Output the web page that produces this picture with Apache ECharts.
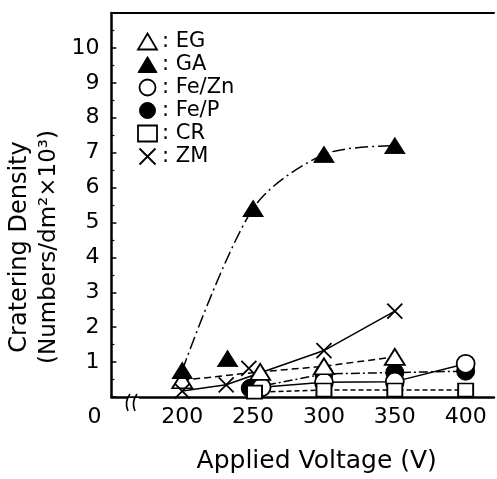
<!DOCTYPE html>
<html>
<head>
<meta charset="utf-8">
<script src="https://cdn.jsdelivr.net/npm/echarts@6/dist/echarts.min.js"></script>
<style>
  html, body { margin: 0; padding: 0; background: #fff; }
  #chart { width: 497px; height: 479px; }
</style>
</head>
<body>
<div id="chart"></div>
<script>
// data (voltage in V, density in numbers/dm2 x 10^3)
var egVolt = [200, 255, 300, 350];
var egDens = [0.48, 0.72, 0.88, 1.15];
var gaVolt = [200, 250, 300, 350];
var gaDens = [0.76, 5.4, 6.95, 7.2];
var gaExtraVolt = [232];
var gaExtraDens = [1.1];
var fezVolt = [256, 300, 350, 400];
var fezDens = [0.28, 0.42, 0.44, 0.95];
var fepVolt = [248, 300, 350, 400];
var fepDens = [0.25, 0.66, 0.7, 0.74];
var crVolt = [251, 300, 350, 400];
var crDens = [0.14, 0.2, 0.2, 0.2];
var zmVolt = [200, 231, 300, 350];
var zmDens = [0.17, 0.35, 1.33, 2.46];
var zmExtraVolt = [247];
var zmExtraDens = [0.82];

function pairs(xs, ys) {
    var out = [];
    for (var k = 0; k < xs.length; k++) out.push([xs[k], ys[k]]);
    return out;
}

var font = 'DejaVu Sans';
var crossPath = 'path://M0,0L10,10M0,10L10,0';
var openStyle = { color: '#fff', borderColor: '#000', borderWidth: 1.8, opacity: 1 };
var fillStyle = { color: '#000', borderColor: '#000', borderWidth: 1, opacity: 1 };
var crossStyle = { color: 'none', borderColor: '#000', borderWidth: 1.8, opacity: 1 };

function lineSeries(name, data, symbol, size, itemStyle, lineType, smooth) {
    return {
        name: name,
        type: 'line',
        data: data,
        symbol: symbol,
        symbolSize: size,
        showAllSymbol: true,
        smooth: smooth || false,
        itemStyle: itemStyle,
        lineStyle: { color: '#000', width: 1.5, type: lineType },
        emphasis: { disabled: true }
    };
}

function dotSeries(name, data, symbol, size, itemStyle) {
    return {
        name: name,
        type: 'scatter',
        data: data,
        symbol: symbol,
        symbolSize: size,
        itemStyle: itemStyle,
        emphasis: { disabled: true }
    };
}

var chart = echarts.init(document.getElementById('chart'));

var option = {
    animation: false,
    backgroundColor: '#fff',
    textStyle: { fontFamily: font, color: '#000' },
    grid: { left: 108, right: 3, top: 13, bottom: 77 },
    legend: {
        orient: 'vertical',
        left: 137,
        top: 31,
        padding: 0,
        itemGap: 2,
        itemWidth: 19,
        itemHeight: 16,
        selectedMode: false,
        textStyle: { fontFamily: font, fontSize: 21, lineHeight: 19.5, color: '#000' },
        formatter: function (n) { return ': ' + n; },
        data: [
            { name: 'EG', icon: 'triangle', itemStyle: openStyle },
            { name: 'GA', icon: 'triangle', itemStyle: fillStyle },
            { name: 'Fe/Zn', icon: 'circle', itemStyle: openStyle },
            { name: 'Fe/P', icon: 'circle', itemStyle: fillStyle },
            { name: 'CR', icon: 'rect', itemStyle: openStyle },
            { name: 'ZM', icon: crossPath, itemStyle: crossStyle }
        ]
    },
    xAxis: [{
        type: 'value',
        min: 150,
        max: 420,
        interval: 50,
        splitLine: { show: false },
        axisTick: { show: false },
        axisLine: { lineStyle: { color: '#000', width: 2.5 } },
        axisLabel: {
            fontFamily: font,
            fontSize: 22,
            color: '#000',
            margin: 9,
            formatter: function (v) {
                if (v === 150) return '{z|0}';
                if (v >= 200 && v <= 400) return String(v);
                return '';
            },
            rich: { z: { fontFamily: font, fontSize: 22, color: '#000', padding: [0, 34, 0, 0] } }
        },
        name: 'Applied Voltage (V)',
        nameLocation: 'middle',
        nameGap: 52,
        nameTextStyle: { fontFamily: font, fontSize: 25, color: '#000', padding: [0, 0, 0, 28] }
    }, {
        // top edge of the frame
        type: 'value',
        position: 'top',
        min: 150,
        max: 420,
        splitLine: { show: false },
        axisTick: { show: false },
        axisLabel: { show: false },
        axisLine: { lineStyle: { color: '#000', width: 2 } }
    }],
    yAxis: {
        type: 'value',
        min: 0,
        max: 11,
        interval: 1,
        splitLine: { show: false },
        axisLine: { show: true, lineStyle: { color: '#000', width: 2.5 } },
        axisTick: { show: true, inside: true, length: 5, lineStyle: { color: '#000', width: 1.5 } },
        minorTick: { show: true, splitNumber: 2, length: 3, lineStyle: { color: '#000', width: 1.2 } },
        axisLabel: {
            fontFamily: font,
            fontSize: 22,
            color: '#000',
            margin: 12,
            formatter: function (v) { return (v === 0 || v === 11) ? '' : String(v); }
        },
        name: '{a|Cratering Density}\n{b|(Numbers/dm²×10³)}',
        nameLocation: 'middle',
        nameGap: 46,
        nameRotate: 90,
        nameTextStyle: {
            color: '#000',
            padding: [0, 84, 0, 0],
            rich: {
                a: { fontFamily: font, fontSize: 24, lineHeight: 29, color: '#000' },
                b: { fontFamily: font, fontSize: 23, lineHeight: 29, color: '#000' }
            }
        }
    },
    graphic: [
        // axis break mark
        { type: 'rect', shape: { x: 127, y: 398, width: 12, height: 8 }, style: { fill: '#fff' }, z: 100 },
        { type: 'bezierCurve', shape: { x1: 130, y1: 394, x2: 128, y2: 411, cpx1: 124, cpy1: 402 },
          style: { stroke: '#000', lineWidth: 1.6, fill: 'none' }, z: 101 },
        { type: 'bezierCurve', shape: { x1: 137, y1: 394, x2: 135, y2: 411, cpx1: 131, cpy1: 402 },
          style: { stroke: '#000', lineWidth: 1.6, fill: 'none' }, z: 101 }
    ],
    series: [
        lineSeries('Fe/P', pairs(fepVolt, fepDens), 'circle', 18, fillStyle, [9, 3, 2, 3]),
        lineSeries('Fe/Zn', pairs(fezVolt, fezDens), 'circle', 18, openStyle, 'solid'),
        lineSeries('CR', pairs(crVolt, crDens), 'rect', [15, 13], openStyle, [5, 3]),
        lineSeries('EG', pairs(egVolt, egDens), 'triangle', [20, 16], openStyle, [7, 4]),
        lineSeries('ZM', pairs(zmVolt, zmDens), crossPath, 15, crossStyle, 'solid'),
        dotSeries('ZM', pairs(zmExtraVolt, zmExtraDens), crossPath, 15, crossStyle),
        lineSeries('GA', pairs(gaVolt, gaDens), 'triangle', [20, 16], fillStyle, [13, 4, 2, 4], 0.3),
        dotSeries('GA', pairs(gaExtraVolt, gaExtraDens), 'triangle', [20, 16], fillStyle)
    ]
};

chart.setOption(option);
</script>
</body>
</html>
